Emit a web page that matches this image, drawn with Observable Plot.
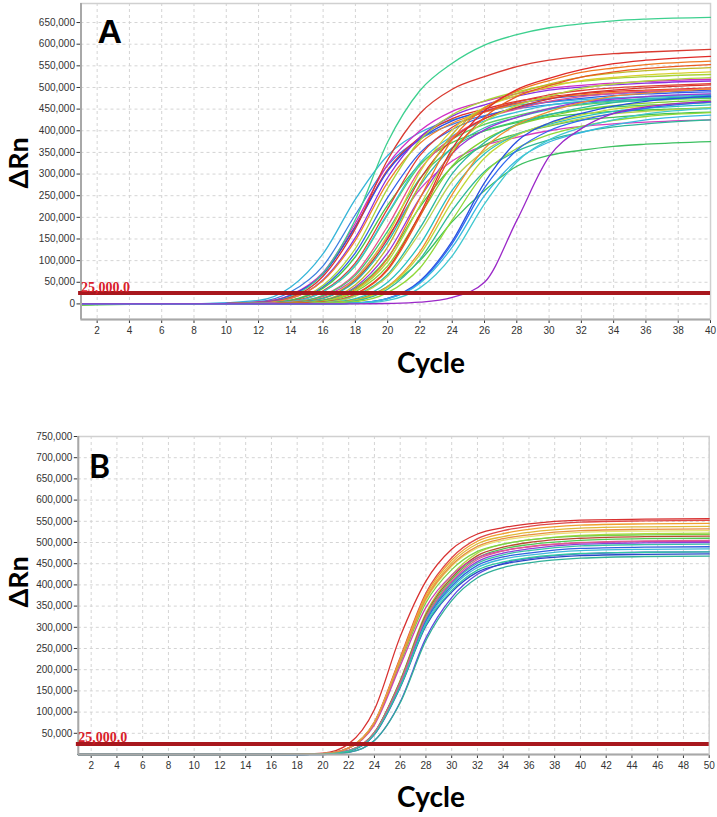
<!DOCTYPE html>
<html><head><meta charset="utf-8">
<script src="https://cdn.jsdelivr.net/npm/d3@7"></script>
<script src="https://cdn.jsdelivr.net/npm/@observablehq/plot@0.6"></script>
<style>
body{margin:0;background:#fff;}
#chart{width:717px;}
#chart svg{display:block;}
</style></head><body><div id="chart"></div>
<script>
// ---------- Panel A data (ΔRn in thousands) ----------
const cyclesA = [1,4,8,12,14,16,18,20,22,24,26,28,30,32,34,36,40];
const colorsA = ["#35b5d8","#3b7fe0","#e0332b","#d12fc4","#2d4ee6","#3dd08f","#d93a30","#8b2fe0","#f0802a","#a8d43a",
  "#2f5fe8","#45c845","#e04035","#5ad060","#38c0d8","#d43cc0","#e8508a","#3cc870","#d8d030","#d8342c",
  "#30b8b0","#c0b828","#9a35d8","#48c050","#f07820","#b0d840","#80d030","#e02a28","#e85a20","#2cb8a0",
  "#b8d050","#28c0c0","#3cc060","#f09030","#c0d838","#30b898","#90d838","#2850e0","#3068f0","#38b8e0",
  "#40c8d0","#9b28c8"];
const valuesA = [
  [0,0,0,8,39,116,242,343,396,425,444,459,466,472,476,478,482],
  [0,0,0,5,28,88,206,320,381,415,435,451,460,466,470,473,477],
  [0,0,0,4,20,70,180,310,385,428,450,468,479,486,491,494,499],
  [0,0,0,4,21,73,187,322,400,445,468,486,498,505,510,514,519],
  [0,0,0,3,20,69,178,307,381,423,446,463,474,481,486,489,494],
  [0,0,0,3,17,71,195,374,493,556,598,622,638,647,654,658,662],
  [0,0,0,3,15,64,174,333,440,496,525,548,563,572,578,582,588],
  [0,0,0,3,13,56,153,292,385,434,460,480,494,501,506,510,515],
  [0,0,0,2,13,54,147,281,371,418,443,462,476,483,488,492,496],
  [0,0,0,2,9,43,128,267,378,437,469,490,506,514,521,525,530],
  [0,0,0,1,8,39,118,246,349,403,433,453,467,475,481,485,490],
  [-3,-1,0,1,8,36,109,228,323,373,400,419,432,439,445,448,453],
  [0,0,0,1,6,30,95,220,343,408,444,466,483,493,499,503,509],
  [-2,0,0,1,5,28,88,206,320,381,415,435,451,460,466,470,475],
  [0,0,0,1,5,28,90,209,326,388,423,443,459,468,475,479,484],
  [0,0,0,0,3,17,60,154,265,330,366,385,400,410,416,420,425],
  [0,0,0,1,4,20,70,180,310,385,428,450,468,479,486,491,497],
  [0,0,0,0,3,19,66,168,290,360,400,421,438,448,455,459,465],
  [0,0,0,0,3,14,58,159,305,402,454,481,501,516,523,529,536],
  [0,0,0,0,3,13,55,150,288,380,428,454,473,487,494,499,506],
  [0,0,0,0,2,13,52,143,273,361,407,431,449,462,469,474,480],
  [0,0,0,0,2,9,44,132,276,392,453,486,508,524,533,539,546],
  [0,0,0,0,1,8,39,118,245,348,402,431,451,466,473,479,485],
  [0,0,0,0,1,8,36,107,224,317,367,393,411,425,431,437,443],
  [0,0,0,0,1,6,33,105,244,380,452,492,516,535,545,553,561],
  [0,0,0,0,1,6,31,98,227,354,421,458,480,498,508,515,523],
  [-2,0,0,0,1,5,28,88,205,319,379,413,433,449,458,464,471],
  [0,0,0,0,1,4,23,81,208,359,446,495,521,541,555,563,572],
  [0,0,0,0,1,4,22,78,202,347,431,479,504,524,536,544,553],
  [0,0,0,0,0,3,19,68,175,301,373,415,437,453,465,471,479],
  [0,0,0,0,0,3,18,64,165,284,353,392,412,428,439,445,453],
  [0,0,0,0,0,2,12,50,137,263,347,391,415,432,445,452,460],
  [0,0,0,0,0,2,10,40,100,190,262,318,343,355,364,369,375],
  [0,0,0,0,0,2,9,40,121,253,359,414,444,465,480,487,497],
  [0,0,0,0,0,1,8,38,114,237,337,389,417,436,450,457,467],
  [0,0,0,0,0,1,7,34,103,216,306,353,379,397,409,416,425],
  [0,0,0,0,0,1,5,26,83,194,302,359,391,410,424,433,442],
  [0,0,0,0,0,0,2,13,53,145,280,375,418,440,457,468,480],
  [0,0,0,0,0,0,2,12,50,140,268,355,400,424,440,452,466],
  [0,0,0,0,0,0,2,12,48,131,250,332,374,396,413,425,436],
  [0,0,0,0,0,0,1,8,37,111,231,328,379,407,425,439,451],
  [0,0,0,0,0,0,0,1,4,15,50,193,340,405,440,455,468]
];
const xTicksA = [2,4,6,8,10,12,14,16,18,20,22,24,26,28,30,32,34,36,38,40];
const yTicksA = [0,50,100,150,200,250,300,350,400,450,500,550,600,650];

// ---------- Panel B data (ΔRn in thousands) ----------
const cyclesB = [1,10,16,18,20,22,24,26,28,30,32,34,36,40,45,50];
const colorsB = ["#d83030","#e04848","#f0a030","#e0b838","#e8e070","#b0d840","#78d048","#b84a30","#50c850","#d040b0",
  "#8a40d8","#38c0a8","#3060e0","#40b8d8","#6048e0","#2848c8","#30b098","#e05890","#e89040","#30c8a0"];
const valuesB = [
  [0,0,0,1,3,25,106,278,409,484,520,535,544,553,555,556],
  [0,0,0,1,2,16,77,229,381,464,509,528,538,548,551,552],
  [0,0,0,1,2,16,76,226,376,458,503,521,531,541,544,545],
  [0,0,0,1,2,16,75,223,371,452,497,514,524,534,537,538],
  [0,0,0,1,2,15,74,219,364,444,487,505,514,524,527,528],
  [0,0,0,0,1,9,52,175,334,423,475,496,506,517,521,522],
  [0,0,0,1,2,15,73,215,358,436,479,496,506,515,518,519],
  [0,0,0,0,1,9,52,173,330,417,469,489,500,510,514,515],
  [0,0,0,0,1,9,51,171,326,413,464,485,495,505,509,510],
  [0,0,0,1,2,15,70,209,347,423,464,481,490,499,502,503],
  [0,0,0,0,1,9,50,168,320,405,455,475,485,496,499,500],
  [0,0,0,0,1,8,50,166,317,402,451,471,481,492,495,496],
  [0,0,0,0,1,8,49,164,314,397,446,466,475,486,489,490],
  [0,0,0,0,1,8,49,162,310,393,441,461,470,481,484,485],
  [0,0,0,0,0,5,33,124,275,370,425,451,462,473,477,478],
  [0,0,0,0,1,8,47,158,303,383,430,449,459,469,472,473],
  [0,0,0,0,0,5,33,122,269,363,417,441,452,463,467,468],
  [0,0,0,0,1,9,51,169,323,409,460,480,490,500,504,505],
  [0,0,0,1,2,15,74,221,367,447,491,509,518,528,531,532],
  [0,0,0,0,1,8,48,160,306,387,435,454,464,474,477,478]
];
const xTicksB = [2,4,6,8,10,12,14,16,18,20,22,24,26,28,30,32,34,36,38,40,42,44,46,48,50];
const yTicksB = [50,100,150,200,250,300,350,400,450,500,550,600,650,700,750];

const threshold = 25;
const thresholdLabel = "25,000.0";

function toRows(cycles, values, colors) {
  const rows = [];
  values.forEach((vals, i) => vals.forEach((v, j) => rows.push({id: i, cycle: cycles[j], value: v, color: colors[i]})));
  return rows;
}
const fmt = d => d3.format(",")(d * 1000);

function panel({rows, xDomain, yDomain, xTicks, yTicks, height, mt, mb, ml, mr}) {
  return Plot.plot({
    width: 717, height,
    marginTop: mt, marginBottom: mb, marginLeft: ml, marginRight: mr,
    style: {fontFamily: "'Liberation Sans', Arial, sans-serif", fontSize: "10px", color: "#333", background: "#fff", overflow: "visible"},
    x: {domain: xDomain, ticks: xTicks, tickFormat: d => String(d), tickSize: 4, tickPadding: 3, label: null},
    y: {domain: yDomain, ticks: yTicks, tickFormat: fmt, tickSize: 4, tickPadding: 2, label: null},
    color: {type: "identity"},
    marks: [
      Plot.ruleX(xTicks, {stroke: "#d4d4d4", strokeDasharray: "3,3"}),
      Plot.ruleY(yTicks, {stroke: "#d4d4d4", strokeDasharray: "3,3"}),
      Plot.frame({stroke: "#d0d0d0", strokeWidth: 1.5}),
      Plot.line(rows, {x: "cycle", y: "value", z: "id", stroke: "color", strokeWidth: 1.3, curve: "monotone-x"}),
      Plot.ruleX([xDomain[0]], {stroke: "#a8a8a8", strokeWidth: 2}),
      Plot.ruleY([yDomain[0]], {stroke: "#a8a8a8", strokeWidth: 2}),
      Plot.ruleY([threshold], {x1: xDomain[0] - 0.15, x2: xDomain[1], stroke: "#a8171d", strokeWidth: 4}),
      Plot.text([thresholdLabel], {x: xDomain[0], y: threshold, text: d => d, textAnchor: "start", dx: 0, dy: -6,
        fill: "#d8202a", fontFamily: "'Liberation Serif', 'Times New Roman', serif", fontWeight: "bold", fontSize: 14})
    ]
  });
}

function addText(svg, txt, x, y, size, font, opts = {}) {
  const t = d3.select(svg).append("text")
    .attr("x", opts.rotate ? 0 : x).attr("y", opts.rotate ? 0 : y)
    .attr("font-family", font).attr("font-weight", "bold").attr("font-size", size)
    .attr("fill", "#000").attr("text-anchor", opts.anchor || "start").text(txt);
  if (opts.rotate) t.attr("transform", `translate(${x},${y}) rotate(-90)`);
}

const chart = document.getElementById("chart");
const svgA = panel({rows: toRows(cyclesA, valuesA, colorsA), xDomain: [1, 40], yDomain: [-36, 694],
  xTicks: xTicksA, yTicks: yTicksA, height: 400, mt: 3, mb: 81, ml: 80.5, mr: 7});
addText(svgA, "A", 97.5, 42.7, 34, "'Liberation Sans', Arial, sans-serif");
addText(svgA, "ΔRn", 28, 163, 27, "Lato, 'Open Sans', sans-serif", {rotate: true, anchor: "middle"});
addText(svgA, "Cycle", 431, 373, 28, "Lato, 'Open Sans', sans-serif", {anchor: "middle"});
chart.appendChild(svgA);

const svgB = panel({rows: toRows(cyclesB, valuesB, colorsB), xDomain: [1, 50], yDomain: [0, 750],
  xTicks: xTicksB, yTicks: yTicksB, height: 417, mt: 36, mb: 63, ml: 77.8, mr: 8.3});
addText(svgB, "B", 89, 78.3, 32, "Lato, 'Liberation Sans', sans-serif");
addText(svgB, "ΔRn", 28, 182, 27, "Lato, 'Open Sans', sans-serif", {rotate: true, anchor: "middle"});
addText(svgB, "Cycle", 431, 407, 28, "Lato, 'Open Sans', sans-serif", {anchor: "middle"});
chart.appendChild(svgB);
</script>
</body></html>
